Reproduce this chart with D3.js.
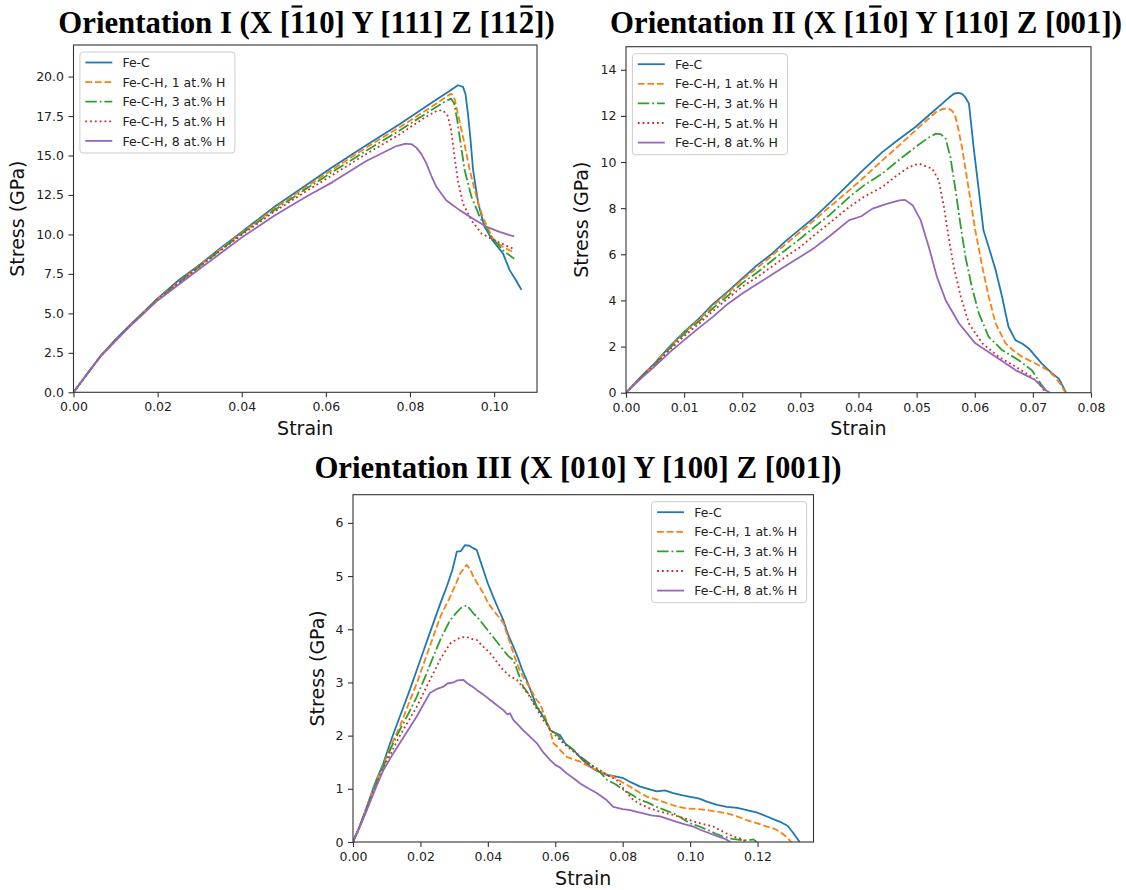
<!DOCTYPE html>
<html><head><meta charset="utf-8">
<script src="https://cdn.jsdelivr.net/npm/d3@7"></script>
<style>body{margin:0;background:#fff}</style>
</head><body>
<svg id="chart" width="1126" height="890" xmlns="http://www.w3.org/2000/svg"></svg>
<script>
// ---------- shared ----------
const seriesNames = ["Fe-C", "Fe-C-H, 1 at.% H", "Fe-C-H, 3 at.% H", "Fe-C-H, 5 at.% H", "Fe-C-H, 8 at.% H"];
const seriesColors = ["#1f77b4", "#ff7f0e", "#2ca02c", "#d62728", "#9467bd"];
const seriesDash = [null, "6.7,2.9", "11.5,2.9,1.8,2.9", "1.8,3", null];

// ---------- Orientation I : [strain, stress GPa] ----------
const o1_FeC = [[0,0],[0.0033,1.2],[0.0066,2.36],[0.01,3.35],[0.013,4.15],[0.0165,5.05],[0.02,5.95],[0.025,7.1],[0.0304,8.16],[0.035,9.15],[0.04,10.16],[0.0478,11.75],[0.0557,13.2],[0.0615,14.25],[0.0696,15.65],[0.0776,17.0],[0.0855,18.4],[0.0895,19.1],[0.0914,19.45],[0.0926,19.35],[0.0932,18.9],[0.0938,17.6],[0.0944,16.0],[0.095,14.1],[0.0962,12.0],[0.0977,10.5],[0.0997,9.6],[0.1021,8.8],[0.1037,7.74],[0.1052,7.1],[0.1065,6.5]];
const o1_H1 = [[0,0],[0.0066,2.35],[0.013,4.13],[0.02,5.93],[0.0304,8.12],[0.04,10.1],[0.0478,11.65],[0.0557,13.08],[0.0615,14.1],[0.0696,15.5],[0.0776,16.8],[0.0855,18.15],[0.0885,18.7],[0.0898,18.92],[0.0906,18.6],[0.0916,17.4],[0.0926,16.2],[0.0942,14.07],[0.0958,12.4],[0.0973,11.1],[0.0997,9.75],[0.1021,9.2],[0.1048,8.85]];
const o1_H3 = [[0,0],[0.0066,2.35],[0.013,4.12],[0.02,5.9],[0.0304,8.08],[0.04,10.05],[0.0478,11.55],[0.0557,12.95],[0.0615,13.95],[0.0696,15.3],[0.0776,16.6],[0.0855,17.95],[0.0885,18.45],[0.0898,18.6],[0.0905,18.3],[0.0912,17.3],[0.0918,16.2],[0.093,14.07],[0.0946,12.4],[0.0966,11.1],[0.0993,9.85],[0.1021,9.0],[0.1048,8.45]];
const o1_H5 = [[0,0],[0.0066,2.34],[0.013,4.1],[0.02,5.88],[0.0304,8.05],[0.04,9.98],[0.0478,11.45],[0.0557,12.8],[0.0615,13.75],[0.0696,15.1],[0.0776,16.35],[0.0835,17.4],[0.0865,17.85],[0.0878,17.87],[0.089,17.5],[0.0898,16.6],[0.0906,14.9],[0.0914,13.4],[0.0926,11.96],[0.0946,10.9],[0.097,10.06],[0.0995,9.7],[0.102,9.4],[0.1045,9.1]];
const o1_H8 = [[0,0],[0.0066,2.33],[0.013,4.07],[0.02,5.82],[0.0304,7.9],[0.04,9.8],[0.0478,11.2],[0.0557,12.45],[0.0615,13.3],[0.0696,14.65],[0.0768,15.6],[0.079,15.75],[0.0805,15.7],[0.0815,15.5],[0.0827,15.1],[0.0839,14.5],[0.0851,13.7],[0.0863,13.0],[0.0886,12.17],[0.0918,11.54],[0.095,11.0],[0.0981,10.5],[0.1013,10.16],[0.1037,9.95],[0.1048,9.88]];
const o1_xTicks = [0, 0.02, 0.04, 0.06, 0.08, 0.10];
const o1_yTicks = [0, 2.5, 5, 7.5, 10, 12.5, 15, 17.5, 20];

// ---------- Orientation II ----------
const o2_FeC = [[0,0],[0.0025,0.68],[0.0049,1.27],[0.0075,2.0],[0.01,2.64],[0.0125,3.2],[0.015,3.85],[0.0175,4.38],[0.02,4.95],[0.0225,5.52],[0.025,6.0],[0.0275,6.58],[0.03,7.1],[0.0325,7.62],[0.035,8.22],[0.0384,9.06],[0.041,9.7],[0.0441,10.43],[0.047,11.0],[0.0498,11.52],[0.0522,12.05],[0.0544,12.53],[0.0556,12.8],[0.0564,12.96],[0.0572,13.0],[0.0578,12.96],[0.0584,12.8],[0.059,12.53],[0.0594,11.6],[0.0598,10.65],[0.0607,8.77],[0.0615,7.04],[0.0624,6.32],[0.0636,5.31],[0.0647,4.16],[0.0658,2.86],[0.067,2.28],[0.0682,2.12],[0.0693,1.92],[0.0704,1.6],[0.0715,1.27],[0.0733,0.84],[0.0745,0.6],[0.0757,0]];
const o2_H1 = [[0,0],[0.0025,0.66],[0.0049,1.25],[0.0075,1.96],[0.01,2.6],[0.0125,3.15],[0.015,3.78],[0.0175,4.32],[0.02,4.9],[0.0225,5.4],[0.025,5.92],[0.0275,6.45],[0.03,6.97],[0.0325,7.5],[0.035,8.05],[0.0384,8.77],[0.041,9.35],[0.0441,10.07],[0.047,10.72],[0.0498,11.37],[0.0533,12.16],[0.0544,12.3],[0.0555,12.32],[0.0562,12.2],[0.0567,11.95],[0.0572,11.4],[0.0578,10.65],[0.059,8.77],[0.0601,7.04],[0.0613,5.45],[0.0624,4.16],[0.0636,3.0],[0.0653,2.14],[0.0667,1.82],[0.0681,1.56],[0.0698,1.35],[0.0715,1.13],[0.0727,0.95],[0.0738,0.69],[0.0748,0.35],[0.0756,0]];
const o2_H3 = [[0,0],[0.0025,0.65],[0.0049,1.22],[0.0075,1.92],[0.01,2.55],[0.0125,3.08],[0.015,3.67],[0.0175,4.2],[0.02,4.75],[0.0225,5.2],[0.025,5.7],[0.0275,6.2],[0.03,6.68],[0.0325,7.2],[0.035,7.7],[0.0384,8.48],[0.041,9.0],[0.0441,9.5],[0.047,10.1],[0.0498,10.65],[0.052,11.05],[0.0533,11.23],[0.0542,11.2],[0.055,11.01],[0.0558,10.22],[0.0567,8.77],[0.0576,7.19],[0.0584,5.89],[0.0595,4.59],[0.0607,3.44],[0.0624,2.42],[0.0647,1.85],[0.0675,1.42],[0.0698,0.98],[0.0713,0.41],[0.0725,0]];
const o2_H5 = [[0,0],[0.0025,0.63],[0.0049,1.2],[0.0075,1.85],[0.01,2.45],[0.0125,2.98],[0.015,3.55],[0.0175,4.08],[0.02,4.6],[0.0225,5.0],[0.025,5.45],[0.0275,5.9],[0.03,6.32],[0.0325,6.85],[0.035,7.35],[0.0384,8.05],[0.041,8.5],[0.0441,8.92],[0.0465,9.4],[0.0487,9.78],[0.0504,9.93],[0.0527,9.71],[0.0538,9.21],[0.0547,8.05],[0.0555,6.75],[0.0564,5.45],[0.0576,4.16],[0.059,3.0],[0.0613,2.14],[0.0641,1.56],[0.067,1.13],[0.0698,0.69],[0.071,0.4],[0.0722,0]];
const o2_H8 = [[0,0],[0.0025,0.6],[0.0049,1.13],[0.0075,1.75],[0.01,2.28],[0.0125,2.8],[0.015,3.3],[0.0175,3.85],[0.02,4.3],[0.0225,4.7],[0.025,5.1],[0.0275,5.5],[0.03,5.89],[0.0325,6.3],[0.035,6.78],[0.0384,7.48],[0.0405,7.65],[0.0424,7.98],[0.045,8.2],[0.047,8.34],[0.048,8.36],[0.0493,8.13],[0.0507,7.48],[0.0521,6.32],[0.0535,5.02],[0.055,4.01],[0.0573,3.0],[0.0601,2.14],[0.0636,1.56],[0.067,0.98],[0.0704,0.55],[0.0721,0.12],[0.073,0]];
const o2_xTicks = [0, 0.01, 0.02, 0.03, 0.04, 0.05, 0.06, 0.07, 0.08];
const o2_yTicks = [0, 2, 4, 6, 8, 10, 12, 14];

// ---------- Orientation III ----------
const o3_FeC = [[0,0],[0.002,0.3],[0.0041,0.66],[0.0065,1.1],[0.009,1.48],[0.0115,1.95],[0.0139,2.36],[0.0165,2.8],[0.0189,3.23],[0.0215,3.7],[0.0238,4.11],[0.026,4.5],[0.0278,4.8],[0.0295,5.12],[0.0308,5.46],[0.032,5.47],[0.0332,5.58],[0.0345,5.57],[0.0358,5.52],[0.0367,5.49],[0.0377,5.3],[0.0387,5.11],[0.04,4.86],[0.0416,4.61],[0.043,4.4],[0.0446,4.17],[0.046,3.9],[0.0476,3.67],[0.049,3.45],[0.0503,3.22],[0.0515,3.05],[0.053,2.8],[0.0545,2.54],[0.0555,2.45],[0.057,2.3],[0.0585,2.1],[0.06,2.05],[0.0614,2.01],[0.063,1.85],[0.0654,1.73],[0.068,1.55],[0.0703,1.42],[0.0725,1.33],[0.0753,1.26],[0.0775,1.24],[0.0802,1.2],[0.0825,1.12],[0.0852,1.04],[0.0875,1.0],[0.0901,0.95],[0.0925,0.97],[0.095,0.92],[0.0975,0.88],[0.1,0.85],[0.1025,0.82],[0.105,0.76],[0.108,0.7],[0.1109,0.66],[0.114,0.64],[0.1168,0.6],[0.12,0.55],[0.1228,0.48],[0.125,0.42],[0.1267,0.38],[0.129,0.3],[0.1307,0.16],[0.1325,0]];
const o3_H1 = [[0,0],[0.002,0.3],[0.0041,0.65],[0.0065,1.08],[0.009,1.45],[0.0115,1.85],[0.0139,2.17],[0.0165,2.6],[0.0189,2.98],[0.0215,3.45],[0.0238,3.86],[0.026,4.25],[0.0288,4.61],[0.0305,4.85],[0.0318,5.05],[0.033,5.15],[0.0337,5.21],[0.0347,5.13],[0.0357,4.99],[0.037,4.85],[0.0387,4.67],[0.04,4.5],[0.0416,4.36],[0.043,4.25],[0.0446,4.12],[0.046,3.85],[0.0476,3.55],[0.049,3.3],[0.0505,3.1],[0.052,2.95],[0.0535,2.78],[0.0545,2.67],[0.0555,2.6],[0.057,2.35],[0.0585,2.1],[0.0594,1.86],[0.0605,1.8],[0.0614,1.73],[0.0634,1.6],[0.0655,1.55],[0.0674,1.51],[0.07,1.42],[0.0723,1.35],[0.075,1.28],[0.0772,1.23],[0.08,1.12],[0.0822,1.04],[0.085,0.93],[0.0872,0.85],[0.09,0.8],[0.0931,0.73],[0.096,0.67],[0.099,0.63],[0.102,0.62],[0.105,0.6],[0.108,0.57],[0.1109,0.54],[0.114,0.48],[0.1168,0.41],[0.12,0.35],[0.1228,0.29],[0.125,0.25],[0.1267,0.19],[0.1285,0.1],[0.13,0]];
const o3_H3 = [[0,0],[0.002,0.3],[0.0041,0.64],[0.0065,1.05],[0.009,1.42],[0.0115,1.8],[0.0139,2.11],[0.0165,2.42],[0.0189,2.73],[0.0215,3.12],[0.0238,3.48],[0.026,3.82],[0.0288,4.17],[0.0305,4.3],[0.0318,4.39],[0.033,4.43],[0.0337,4.45],[0.0347,4.38],[0.0357,4.3],[0.0367,4.24],[0.0385,4.1],[0.0407,3.92],[0.0425,3.78],[0.0446,3.61],[0.046,3.5],[0.0476,3.42],[0.049,3.18],[0.0505,2.92],[0.0525,2.75],[0.0545,2.54],[0.0555,2.48],[0.057,2.3],[0.0585,2.1],[0.0604,2.04],[0.0614,1.95],[0.063,1.85],[0.0654,1.73],[0.068,1.58],[0.0713,1.42],[0.0735,1.3],[0.0753,1.17],[0.078,1.08],[0.0802,0.98],[0.083,0.88],[0.0852,0.79],[0.0875,0.74],[0.0901,0.66],[0.0925,0.6],[0.095,0.54],[0.0975,0.45],[0.1,0.35],[0.1025,0.3],[0.105,0.23],[0.1075,0.16],[0.1099,0.1],[0.1125,0.06],[0.1148,0.04],[0.117,0.03],[0.1188,0.05],[0.1197,0]];
const o3_H5 = [[0,0],[0.002,0.29],[0.0041,0.62],[0.0065,1.0],[0.009,1.38],[0.0115,1.7],[0.0139,2.0],[0.0165,2.28],[0.0189,2.54],[0.0215,2.88],[0.0238,3.17],[0.026,3.45],[0.0288,3.73],[0.031,3.82],[0.0325,3.85],[0.0337,3.86],[0.035,3.82],[0.0367,3.8],[0.0385,3.68],[0.0407,3.55],[0.0425,3.4],[0.0446,3.23],[0.0465,3.12],[0.0486,3.05],[0.0505,2.9],[0.0525,2.73],[0.0545,2.5],[0.0565,2.29],[0.0585,2.12],[0.0604,1.98],[0.0625,1.85],[0.065,1.72],[0.0674,1.6],[0.07,1.47],[0.0733,1.35],[0.0755,1.25],[0.0782,1.17],[0.0805,0.98],[0.0832,0.79],[0.0855,0.7],[0.0881,0.63],[0.0905,0.58],[0.0931,0.54],[0.0955,0.5],[0.098,0.45],[0.1005,0.4],[0.103,0.35],[0.105,0.32],[0.1069,0.29],[0.109,0.22],[0.1109,0.16],[0.113,0.1],[0.1148,0.07],[0.116,0.03],[0.117,0]];
const o3_H8 = [[0,0],[0.002,0.28],[0.0041,0.6],[0.0065,0.98],[0.009,1.35],[0.0115,1.62],[0.0139,1.86],[0.0165,2.12],[0.0189,2.36],[0.021,2.6],[0.0228,2.8],[0.025,2.88],[0.0268,2.92],[0.028,2.98],[0.0298,3.0],[0.031,3.04],[0.0327,3.05],[0.034,2.98],[0.0355,2.92],[0.0367,2.86],[0.0385,2.78],[0.0407,2.67],[0.0425,2.58],[0.0446,2.48],[0.0458,2.4],[0.0466,2.42],[0.0475,2.3],[0.049,2.2],[0.0505,2.1],[0.0525,1.98],[0.0545,1.86],[0.0565,1.68],[0.0585,1.54],[0.06,1.45],[0.0614,1.4],[0.0634,1.29],[0.0654,1.2],[0.0674,1.1],[0.07,1.0],[0.0723,0.92],[0.075,0.8],[0.0772,0.66],[0.08,0.62],[0.0822,0.6],[0.0845,0.56],[0.0861,0.54],[0.0885,0.5],[0.0911,0.48],[0.0935,0.43],[0.096,0.38],[0.0985,0.33],[0.101,0.29],[0.103,0.23],[0.1059,0.16],[0.108,0.11],[0.1099,0.07],[0.1112,0.03],[0.112,0]];
const o3_xTicks = [0, 0.02, 0.04, 0.06, 0.08, 0.10, 0.12];
const o3_yTicks = [0, 1, 2, 3, 4, 5, 6];

// title pieces: [text, overbar?]
const title1 = [["Orientation I (X [", false], ["1", true], ["10] Y [111] Z [11", false], ["2", true], ["])", false]];
const title2 = [["Orientation II (X [1", false], ["1", true], ["0] Y [110] Z [001])", false]];
const title3 = [["Orientation III (X [010] Y [100] Z [001])", false]];

// ---------- layout ----------
const panels = [
  {box:{l:73.5,r:537,t:45,b:392.3}, xMax:0.1102, yMax:22.0, xTicks:o1_xTicks, yTicks:o1_yTicks, xFmt:".2f", yFmt:".1f",
   series:[o1_FeC,o1_H1,o1_H3,o1_H5,o1_H8], title:title1, titleX:306.5, titleY:33, ylabX:24, legend:"left"},
  {box:{l:626,r:1091,t:46.7,b:392.7}, xMax:0.08, yMax:15.0, xTicks:o2_xTicks, yTicks:o2_yTicks, xFmt:".2f", yFmt:"d",
   series:[o2_FeC,o2_H1,o2_H3,o2_H5,o2_H8], title:title2, titleX:866, titleY:33, ylabX:588, legend:"left"},
  {box:{l:353,r:813.5,t:494.7,b:842}, xMax:0.1366, yMax:6.53, xTicks:o3_xTicks, yTicks:o3_yTicks, xFmt:".2f", yFmt:"d",
   series:[o3_FeC,o3_H1,o3_H3,o3_H5,o3_H8], title:title3, titleX:578, titleY:478, ylabX:324, legend:"right"}
];

const svg = d3.select("#chart");
svg.append("rect").attr("width",1126).attr("height",890).attr("fill","#fff");

const tickFont = "'DejaVu Sans', sans-serif";
const spineColor = "#333";

panels.forEach((p, pi) => {
  const {l, r, t, b} = p.box;
  const x = d3.scaleLinear().domain([0, p.xMax]).range([l, r]);
  const y = d3.scaleLinear().domain([0, p.yMax]).range([b, t]);

  const clipId = "clip" + pi;
  svg.append("clipPath").attr("id", clipId).append("rect")
    .attr("x", l).attr("y", t - 1).attr("width", r - l).attr("height", b - t + 1);

  // lines
  const line = d3.line().x(d => x(d[0])).y(d => y(d[1]));
  const g = svg.append("g").attr("clip-path", `url(#${clipId})`);
  p.series.forEach((s, i) => {
    g.append("path").datum(s).attr("d", line)
      .attr("fill", "none").attr("stroke", seriesColors[i]).attr("stroke-width", 1.8)
      .attr("stroke-linejoin", "round")
      .attr("stroke-dasharray", seriesDash[i]);
  });

  // axes
  const xAxis = d3.axisBottom(x).tickValues(p.xTicks).tickFormat(d3.format(p.xFmt)).tickSize(5).tickSizeOuter(0).tickPadding(5);
  const yAxis = d3.axisLeft(y).tickValues(p.yTicks).tickFormat(d3.format(p.yFmt)).tickSize(5).tickSizeOuter(0).tickPadding(4.5);
  const gx = svg.append("g").attr("transform", `translate(0,${b})`).call(xAxis);
  const gy = svg.append("g").attr("transform", `translate(${l},0)`).call(yAxis);
  [gx, gy].forEach(ga => {
    ga.select(".domain").remove();
    ga.selectAll("line").attr("stroke", spineColor).attr("stroke-width", 1.1);
    ga.selectAll("text").attr("font-family", tickFont).attr("font-size", 12.5).attr("fill", "#222");
  });

  // frame
  svg.append("rect").attr("x", l).attr("y", t).attr("width", r - l).attr("height", b - t)
    .attr("fill", "none").attr("stroke", spineColor).attr("stroke-width", 1.1);

  // axis labels
  svg.append("text").attr("x", (l + r) / 2).attr("y", b + 42.5).attr("text-anchor", "middle")
    .attr("font-family", tickFont).attr("font-size", 19).attr("fill", "#111").text("Strain");
  svg.append("text").attr("transform", `translate(${p.ylabX},${(t + b) / 2}) rotate(-90)`).attr("text-anchor", "middle")
    .attr("font-family", tickFont).attr("font-size", 19).attr("fill", "#111").text("Stress (GPa)");

  // legend
  const lw = 155, lh = 101;
  const lx = p.legend === "left" ? l + 6.4 : r - 6.8 - lw;
  const ly = t + 7;
  const lg = svg.append("g").attr("transform", `translate(${lx},${ly})`);
  lg.append("rect").attr("width", lw).attr("height", lh).attr("rx", 3)
    .attr("fill", "#fff").attr("fill-opacity", 0.8).attr("stroke", "#cccccc").attr("stroke-width", 1);
  seriesNames.forEach((name, i) => {
    const ry = 10.5 + i * 19.6;
    lg.append("line").attr("x1", 5.4).attr("x2", 32.4).attr("y1", ry).attr("y2", ry)
      .attr("stroke", seriesColors[i]).attr("stroke-width", 1.8).attr("stroke-dasharray", seriesDash[i]);
    lg.append("text").attr("x", 42.5).attr("y", ry + 4.6)
      .attr("font-family", tickFont).attr("font-size", 12.5).attr("fill", "#222").text(name);
  });

  // title
  const fs = 30.8;
  const tt = svg.append("text").attr("x", p.titleX).attr("y", p.titleY).attr("text-anchor", "middle")
    .attr("font-family", "'Liberation Serif', 'Times New Roman', serif").attr("font-weight", "bold")
    .attr("font-size", fs).attr("fill", "#000");
  const spans = p.title.map(([txt, bar]) => ({node: tt.append("tspan").text(txt).node(), bar}));
  spans.forEach(sp => {
    if (!sp.bar) return;
    const x0 = sp.node.getStartPositionOfChar(0).x;
    const w = sp.node.getComputedTextLength();
    svg.append("line").attr("x1", x0 + 1.5).attr("x2", x0 + w - 1.5)
      .attr("y1", p.titleY - fs * 0.86).attr("y2", p.titleY - fs * 0.86)
      .attr("stroke", "#000").attr("stroke-width", 2.2);
  });
});
</script>
</body></html>
